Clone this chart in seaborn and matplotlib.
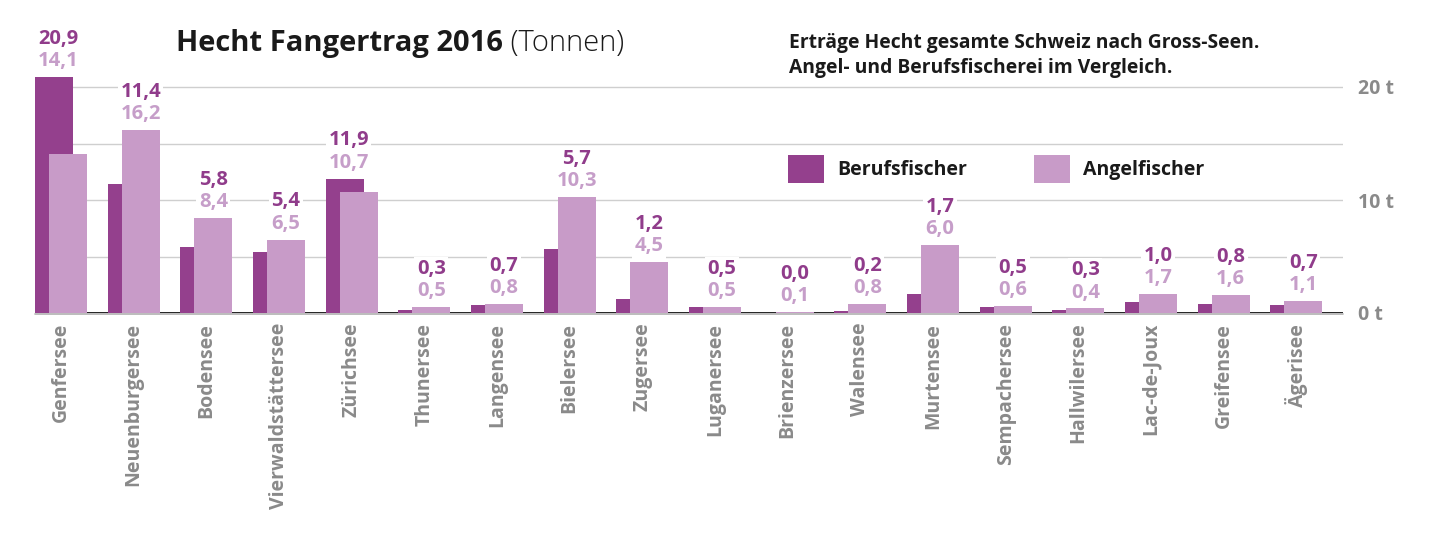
import matplotlib
matplotlib.use("Agg")
import matplotlib.pyplot as plt
import seaborn as sns
from matplotlib.patches import Patch

lakes = ["Genfersee", "Neuenburgersee", "Bodensee", "Vierwaldstättersee", "Zürichsee",
         "Thunersee", "Langensee", "Bielersee", "Zugersee", "Luganersee", "Brienzersee",
         "Walensee", "Murtensee", "Sempachersee", "Hallwilersee", "Lac-de-Joux",
         "Greifensee", "Ägerisee"]
berufsfischer = [20.9, 11.4, 5.8, 5.4, 11.9, 0.3, 0.7, 5.7, 1.2, 0.5, 0.0, 0.2, 1.7, 0.5, 0.3, 1.0, 0.8, 0.7]
angelfischer = [14.1, 16.2, 8.4, 6.5, 10.7, 0.5, 0.8, 10.3, 4.5, 0.5, 0.1, 0.8, 6.0, 0.6, 0.4, 1.7, 1.6, 1.1]
ytick_vals = [0, 5, 10, 15, 20]
ytick_labels = ["0 t", "", "10 t", "", "20 t"]
series_names = ["Berufsfischer", "Angelfischer"]

DARK = "#94408d"
LIGHT = "#c89bc8"
DARK_TXT = "#903c8b"
LIGHT_TXT = "#c69ec9"
GRAY = "#8a8a8a"

sns.set_theme(style="white")
plt.rcParams["font.family"] = ["Open Sans", "DejaVu Sans"]

W, H = 1440, 540
fig = plt.figure(figsize=(W / 100, H / 100), dpi=100)
px_per_t = 11.3
ymax = 21.0
ax_left, ax_right, ax_bottom = 35, 1343, 313
ax = fig.add_axes([ax_left / W, 1 - ax_bottom / H, (ax_right - ax_left) / W, ymax * px_per_t / H])

group_px = (ax_right - ax_left) / len(lakes)
bar_w = 38 / group_px
off = 7 / group_px

sns.barplot(x=lakes, y=berufsfischer, color=DARK, width=bar_w, saturation=1, ax=ax,
            zorder=3, linewidth=0, edgecolor="none")
n = len(lakes)
for p in ax.patches[:n]:
    p.set_x(p.get_x() - off)
sns.barplot(x=lakes, y=angelfischer, color=LIGHT, width=bar_w, saturation=1, ax=ax,
            zorder=4, linewidth=0, edgecolor="none")
for p in ax.patches[n:]:
    p.set_x(p.get_x() + off)

left_edge = -26 / group_px
ax.set_xlim(left_edge, n + left_edge)
ax.set_ylim(0, ymax)

for v in ytick_vals[1:]:
    ax.axhline(v, color="#cfcfcf", lw=1.0, zorder=1)
ax.axhline(0, color="#222222", lw=1.4, zorder=2)
ax.axhline(-0.12, color="#b0b0b0", lw=1.2, zorder=5, clip_on=False)

for s in ax.spines.values():
    s.set_visible(False)

ax.yaxis.tick_right()
ax.set_yticks(ytick_vals)
ax.set_yticklabels(ytick_labels)
ax.tick_params(axis="y", length=0, pad=11, labelsize=14, labelcolor=GRAY)
for t in ax.get_yticklabels():
    t.set_fontweight("bold")
ax.tick_params(axis="x", length=0, pad=7, labelsize=14, labelcolor=GRAY, rotation=90)
for t in ax.get_xticklabels():
    t.set_fontweight("bold")
    t.set_va("top")
ax.set_xlabel("")
ax.set_ylabel("")

def fmt(v):
    return f"{v:.1f}".replace(".", ",")

bbox = dict(boxstyle="square,pad=0.12", fc="white", ec="none")
for i, (b, a) in enumerate(zip(berufsfischer, angelfischer)):
    top = max(a, b)
    x = i + off if a >= b else i - 0.04
    ax.annotate(fmt(a), (x, top), xytext=(0, 11.5), textcoords="offset points",
                ha="center", va="center", fontsize=14.5, fontweight="bold",
                color=LIGHT_TXT, bbox=bbox, zorder=6, annotation_clip=False)
    ax.annotate(fmt(b), (x, top), xytext=(0, 27.4), textcoords="offset points",
                ha="center", va="center", fontsize=14.5, fontweight="bold",
                color=DARK_TXT, bbox=bbox, zorder=6, annotation_clip=False)

t1 = fig.text(176 / W, 1 - 51 / H, "Hecht Fangertrag 2016", fontsize=21, fontweight="bold",
              color="#1a1a1a", va="baseline", ha="left")
ax.annotate(" (Tonnen)", xy=(1, 0), xycoords=t1, va="bottom", ha="left",
            fontsize=21, fontweight="light", color="#1a1a1a", annotation_clip=False)
fig.text(789 / W, 1 - 48 / H, "Erträge Hecht gesamte Schweiz nach Gross-Seen.", fontsize=13.9,
         fontweight="bold", color="#1a1a1a", va="baseline", ha="left")
fig.text(789 / W, 1 - 73 / H, "Angel- und Berufsfischerei im Vergleich.", fontsize=13.9,
         fontweight="bold", color="#1a1a1a", va="baseline", ha="left")

handles = [Patch(facecolor=DARK, edgecolor="none"), Patch(facecolor=LIGHT, edgecolor="none")]
leg = fig.legend(handles, series_names, loc="upper left", bbox_to_anchor=(788 / W, 1 - 155 / H),
                 ncol=2, frameon=False, borderpad=0, borderaxespad=0, handlelength=1.85,
                 handleheight=1.85, handletextpad=0.7, columnspacing=3.4,
                 prop={"size": 14, "weight": "bold"})
for t in leg.get_texts():
    t.set_color("#1a1a1a")

fig.savefig("out.png", dpi=100)
